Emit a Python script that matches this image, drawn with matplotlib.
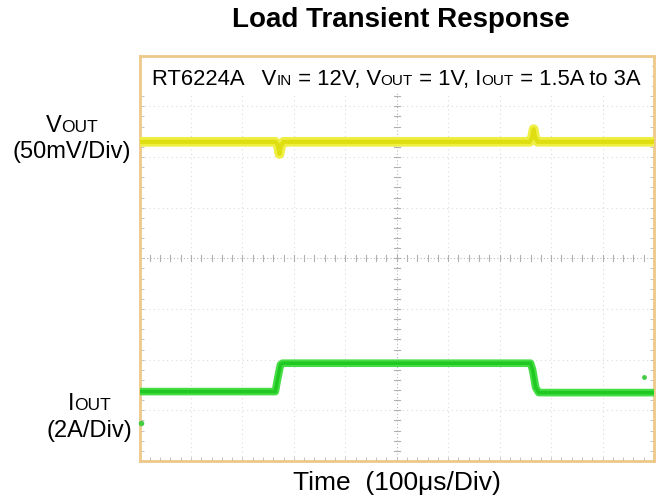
import matplotlib
matplotlib.use("Agg")
import matplotlib.pyplot as plt
import numpy as np
from matplotlib.ticker import MultipleLocator

plt.rcParams['font.family'] = ['Liberation Sans', 'DejaVu Sans']

# Data in divisions (x: 0..10 div, y: -4..4 div)
vout_t = [0.0, 2.64, 2.69, 2.72, 2.75, 2.80, 7.58, 7.63, 7.66, 7.69, 7.74, 10.0]
vout_v = [2.30, 2.30, 2.24, 2.06, 2.22, 2.30, 2.30, 2.38, 2.55, 2.38, 2.30, 2.30]

iout_t = [0.0, 2.64, 2.68, 2.74, 2.78, 7.60, 7.64, 7.70, 7.76, 10.0]
iout_v = [-2.63, -2.63, -2.40, -2.10, -2.07, -2.07, -2.20, -2.55, -2.65, -2.65]

title = "Load Transient Response"
xlabel = "Time  (100\u03bcs/Div)"

W, H = 666, 501
fig = plt.figure(figsize=(W/100, H/100), dpi=100)
L, R, T, B = 139.5, 654, 55.7, 461
ax = fig.add_axes([L/W, 1 - B/H, (R-L)/W, (B-T)/H])
ax.set_xlim(0, 10)
ax.set_ylim(-4, 4)

frame_col = '#eec98a'
for s in ax.spines.values():
    s.set_color(frame_col)
    s.set_linewidth(2.0)

# grid (dotted) at each division
grid_col = '#dcdcdc'
for gx in range(1, 10):
    if gx != 5:
        ax.axvline(gx, color=grid_col, lw=0.8, ls=(0, (1, 3)), zorder=1)
for gy in range(-3, 4):
    if gy != 0:
        ax.axhline(gy, color=grid_col, lw=0.8, ls=(0, (1, 3)), zorder=1)
# center cross
ax.axvline(5, color='#b8b8b8', lw=0.8, ls=(0, (1, 2)), zorder=1)
ax.axhline(0, color='#b8b8b8', lw=0.8, ls=(0, (1, 2)), zorder=1)
for xm in np.arange(0, 10.01, 0.2):
    ax.plot([xm, xm], [-0.06, 0.06], color='#b0b0b0', lw=0.8, zorder=1)
for ym in np.arange(-4, 4.01, 0.2):
    ax.plot([4.94, 5.06], [ym, ym], color='#b0b0b0', lw=0.8, zorder=1)

ax.xaxis.set_minor_locator(MultipleLocator(0.2))
ax.yaxis.set_minor_locator(MultipleLocator(0.2))
ax.set_xticks([])
ax.set_yticks([])
ax.tick_params(which='minor', direction='in', length=3, color='#b8b8b8',
               top=True, right=True, labelbottom=False, labelleft=False)

# white label box at top
ax.axhspan(3.28, 3.97, xmin=0.005, xmax=0.995, color='white', zorder=2)

# traces
ax.plot(vout_t, vout_v, color='#eeee44', lw=7.0, zorder=3, solid_capstyle='butt')
ax.plot(vout_t, vout_v, color='#dede10', lw=3.0, zorder=3, solid_capstyle='butt')
ax.plot(iout_t, iout_v, color='#44dd44', lw=5.5, zorder=3, solid_capstyle='butt')
ax.plot(iout_t, iout_v, color='#22c822', lw=2.5, zorder=3, solid_capstyle='butt')
# stray channel dots
ax.plot([9.8], [-2.34], 'o', color='#44cc44', ms=2.5, zorder=3)
ax.plot([0.02], [-3.25], 'o', color='#44cc44', ms=3, zorder=3, clip_on=False)

fig.canvas.draw()
renderer = fig.canvas.get_renderer()

def rich(px, py, pieces, ha='left'):
    """pieces: list of (text, size) drawn sequentially on one baseline (pixel coords, y from bottom)."""
    widths = []
    for txt, size in pieces:
        t = fig.text(0, 0, txt, fontsize=size)
        widths.append(t.get_window_extent(renderer).width)
        t.remove()
    total = sum(widths)
    if ha == 'center':
        px -= total / 2
    for (txt, size), w in zip(pieces, widths):
        fig.text(px / W, py / H, txt, fontsize=size, va='baseline', ha='left')
        px += w

big, small = 15.8, 11
rich(152, H - 85, [("RT6224A   V", big), ("IN", small), (" = 12V, V", big), ("OUT", small),
                   (" = 1V, I", big), ("OUT", small), (" = 1.5A to 3A", big)])

lab = 17
rich(72, H - 132, [("V", lab), ("OUT", 12.5)], ha='center')
fig.text(72/W, 1 - 152/H, "(50mV/Div)", fontsize=lab, ha='center', va='center')
rich(89, H - 410, [("I", lab), ("OUT", 12.5)], ha='center')
fig.text(89/W, 1 - 431/H, "(2A/Div)", fontsize=lab, ha='center', va='center')

fig.text(401/W, 1 - 20/H, title, fontsize=20, fontweight='bold', ha='center', va='center')
fig.text(397/W, 1 - 483/H, xlabel, fontsize=19, ha='center', va='center')

fig.savefig("out.png", dpi=100)
